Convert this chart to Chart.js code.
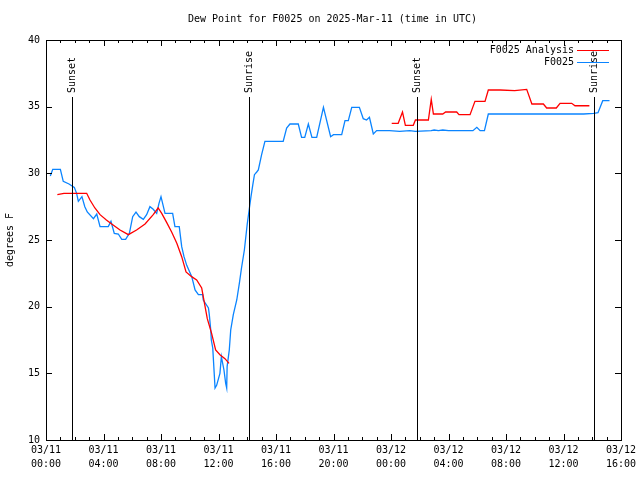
<!DOCTYPE html>
<html>
<head>
<meta charset="utf-8">
<script src="https://cdn.jsdelivr.net/npm/chart.js@4.4.1/dist/chart.umd.min.js"></script>
<style>
    body { margin: 0; background: #fff; }
    canvas { display: block; }
</style>
</head>
<body>
<canvas id="dewChart" width="640" height="480"></canvas>
<script>
// Hours since 03/11 00:00 UTC and dew point (degrees F)
const obsHours = [0.3, 0.47, 1.0, 1.2, 1.6, 1.97, 2.13, 2.25, 2.5, 2.7, 2.87, 3.3, 3.53, 3.76, 4.33, 4.52, 4.75, 5.03,
    5.27, 5.54, 5.8, 6.03, 6.26, 6.49, 6.77, 7.0, 7.23, 7.46, 7.7, 7.86, 8.0, 8.28, 8.81, 8.97, 9.27, 9.44, 9.6, 9.79,
    10.14, 10.37, 10.6, 10.9, 10.94, 11.3, 11.36, 11.46, 11.5, 11.6, 11.76, 11.87, 12.1, 12.2, 12.38, 12.5, 12.57, 12.6,
    12.75, 12.85, 13.03, 13.27, 13.45, 13.6, 13.8, 14.0, 14.15, 14.26, 14.38, 14.5, 14.66, 14.77, 15.0, 15.23, 16.5,
    16.74, 16.97, 17.55, 17.78, 18.0, 18.25, 18.5, 18.83, 19.3, 19.8, 20.0, 20.57, 20.8, 21.03, 21.27, 21.8, 22.07,
    22.3, 22.5, 22.77, 23.0, 23.9, 24.6, 25.3, 25.7, 26.8, 27.0, 27.3, 27.6, 28.0, 29.7, 29.97, 30.2, 30.5, 30.77,
    37.4, 38.1, 38.4, 38.73, 39.2];
const obsValues = [29.8, 30.3, 30.3, 29.4, 29.2, 28.95, 28.5, 27.9, 28.25, 27.5, 27.1, 26.6, 26.95, 26.0, 26.0, 26.4, 25.5, 25.45,
    25.05, 25.05, 25.5, 26.75, 27.1, 26.75, 26.55, 26.9, 27.5, 27.3, 27.0, 27.75, 28.25, 27.0, 27.0, 26.0, 26.0, 24.5, 23.75, 23.1,
    22.25, 21.25, 20.9, 20.9, 20.5, 19.9, 19.4, 18.25, 17.5, 16.9, 13.9, 14.1, 15.0, 16.25, 15.25, 14.25, 13.9, 15.5,
    16.75, 18.25, 19.4, 20.5, 21.75, 22.9, 24.25, 26.2, 27.4, 28.25, 29.1, 29.9, 30.1, 30.25, 31.4, 32.4, 32.4,
    33.4, 33.7, 33.7, 32.7, 32.7, 33.7, 32.7, 32.7, 34.95, 32.75, 32.9, 32.9, 33.95, 33.95, 34.95, 34.95, 34.1,
    34.0, 34.2, 32.95, 33.2, 33.2, 33.15, 33.2, 33.15, 33.2, 33.25, 33.2, 33.25, 33.2, 33.2, 33.45, 33.2, 33.2, 34.45,
    34.45, 34.5, 34.55, 35.45, 35.45];

// Analysis series (null marks the gap between the two runs)
const anaHours = [0.79, 1.25, 2.83, 3.06, 3.4, 3.76, 4.2, 4.57, 5.15, 5.73, 6.3, 6.89, 7.46, 7.8, 8.05, 8.4, 8.74, 9.1,
    9.44, 9.74, 10.13, 10.48, 10.83, 10.94, 11.22, 11.52, 11.8, 12.1, 12.45, 12.73, 18.0,
    24.05, 24.5, 24.8, 25.0, 25.55, 25.7, 26.6, 26.8, 26.95, 27.6, 27.8, 28.57, 28.73, 29.5, 29.84, 30.54, 30.77,
    31.6, 32.6, 33.44, 33.8, 34.6, 34.83, 35.5, 35.76, 36.57, 36.8, 37.8];
const anaValues = [28.4, 28.5, 28.5, 28.0, 27.4, 26.9, 26.5, 26.2, 25.75, 25.4, 25.75, 26.2, 26.9, 27.4, 27.0, 26.3, 25.6, 24.75,
    23.75, 22.6, 22.25, 22.0, 21.4, 20.75, 19.1, 18.0, 16.75, 16.4, 16.1, 15.75, null,
    33.75, 33.75, 34.6, 33.6, 33.6, 34.0, 34.0, 35.55, 34.45, 34.45, 34.6, 34.6, 34.4, 34.4, 35.4, 35.4, 36.25,
    36.25, 36.2, 36.3, 35.2, 35.2, 34.9, 34.9, 35.25, 35.25, 35.07, 35.07];

// Tick labels every 4 hours
const tickDates = ['03/11', '03/11', '03/11', '03/11', '03/11', '03/11', '03/12', '03/12', '03/12', '03/12', '03/12'];
const tickTimes = ['00:00', '04:00', '08:00', '12:00', '16:00', '20:00', '00:00', '04:00', '08:00', '12:00', '16:00'];

// Sunset / sunrise markers (hours since start)
const sunHours = [1.83, 14.13, 25.83, 38.13];
const sunLabels = ['Sunset', 'Sunrise', 'Sunset', 'Sunrise'];

const seriesNames = ['F0025 Analysis', 'F0025'];
const seriesColors = ['#ff0000', '#0a84ff'];

const FONT = '"DejaVu Sans Mono", "Liberation Mono", monospace';

function toPoints(xs, ys) {
    return xs.map((x, i) => ({ x: x, y: ys[i] }));
}

// Draws the gnuplot-style frame, inward ticks, sun markers, title and legend
const gnuplotFrame = {
    id: 'gnuplotFrame',
    afterDraw(chart) {
        const ctx = chart.ctx;
        const area = chart.chartArea;
        const xs = chart.scales.x;
        const ys = chart.scales.y;
        ctx.save();
        ctx.strokeStyle = '#000';
        ctx.lineWidth = 1;

        // frame
        ctx.strokeRect(Math.round(area.left) + 0.5, Math.round(area.top) + 0.5,
            Math.round(area.right - area.left), Math.round(area.bottom - area.top));

        // x ticks, bottom and top
        ctx.beginPath();
        xs.ticks.forEach(t => {
            const px = Math.round(xs.getPixelForValue(t.value)) + 0.5;
            const len = t.value % 4 === 0 ? 6 : 3;
            ctx.moveTo(px, area.bottom);
            ctx.lineTo(px, area.bottom - len);
            ctx.moveTo(px, area.top);
            ctx.lineTo(px, area.top + len);
        });
        // y ticks, left and right
        ys.ticks.forEach(t => {
            const py = Math.round(ys.getPixelForValue(t.value)) + 0.5;
            ctx.moveTo(area.left, py);
            ctx.lineTo(area.left + 6, py);
            ctx.moveTo(area.right, py);
            ctx.lineTo(area.right - 6, py);
        });
        ctx.stroke();

        // sunset / sunrise lines
        ctx.font = '10px ' + FONT;
        ctx.fillStyle = '#000';
        sunHours.forEach((h, i) => {
            const px = Math.round(xs.getPixelForValue(h)) + 0.5;
            ctx.beginPath();
            ctx.moveTo(px, area.top + 57);
            ctx.lineTo(px, area.bottom);
            ctx.stroke();
            ctx.save();
            ctx.translate(px, area.top + 53);
            ctx.rotate(-Math.PI / 2);
            ctx.textAlign = 'left';
            ctx.textBaseline = 'middle';
            ctx.fillText(sunLabels[i], 0, 0);
            ctx.restore();
        });

        // title
        ctx.textAlign = 'center';
        ctx.textBaseline = 'middle';
        ctx.fillText('Dew Point for F0025 on 2025-Mar-11 (time in UTC)', (area.left + area.right) / 2 - 1, 19);

        // y axis label
        ctx.save();
        ctx.translate(10, (area.top + area.bottom) / 2);
        ctx.rotate(-Math.PI / 2);
        ctx.fillText('degrees F', 0, 0);
        ctx.restore();

        // legend
        ctx.textAlign = 'right';
        seriesNames.forEach((name, i) => {
            const y = area.top + 10 + i * 12;
            ctx.fillStyle = '#000';
            ctx.fillText(name, area.right - 47, y);
            ctx.strokeStyle = seriesColors[i];
            ctx.beginPath();
            ctx.moveTo(area.right - 44, Math.round(y) + 0.5);
            ctx.lineTo(area.right - 12, Math.round(y) + 0.5);
            ctx.stroke();
        });
        ctx.restore();
    }
};

const ctx = document.getElementById('dewChart').getContext('2d');
new Chart(ctx, {
    type: 'line',
    data: {
        datasets: [
            {
                label: seriesNames[0],
                data: toPoints(anaHours, anaValues),
                borderColor: seriesColors[0],
                borderWidth: 1.3,
                pointRadius: 0,
                tension: 0,
                spanGaps: false
            },
            {
                label: seriesNames[1],
                data: toPoints(obsHours, obsValues),
                borderColor: seriesColors[1],
                borderWidth: 1.3,
                pointRadius: 0,
                tension: 0
            }
        ]
    },
    options: {
        responsive: false,
        animation: false,
        events: [],
        layout: {
            padding: { top: 40, right: 19, left: 0, bottom: 0 }
        },
        scales: {
            x: {
                type: 'linear',
                min: 0,
                max: 40,
                grid: { display: false, drawTicks: false },
                border: { display: false },
                afterFit: function(scale) { scale.height = 40; },
                ticks: {
                    stepSize: 1,
                    autoSkip: false,
                    maxRotation: 0,
                    padding: 3,
                    color: '#000',
                    font: { family: FONT, size: 10, lineHeight: 1.45 },
                    callback: function(value) {
                        if (value % 4 !== 0) return '';
                        const i = value / 4;
                        return [tickDates[i], tickTimes[i]];
                    }
                }
            },
            y: {
                min: 10,
                max: 40,
                grid: { display: false, drawTicks: false },
                border: { display: false },
                afterFit: function(scale) { scale.width = 46; },
                ticks: {
                    stepSize: 5,
                    padding: 6,
                    color: '#000',
                    font: { family: FONT, size: 10 }
                }
            }
        },
        plugins: {
            legend: { display: false },
            tooltip: { enabled: false }
        }
    },
    plugins: [gnuplotFrame]
});
</script>
</body>
</html>
